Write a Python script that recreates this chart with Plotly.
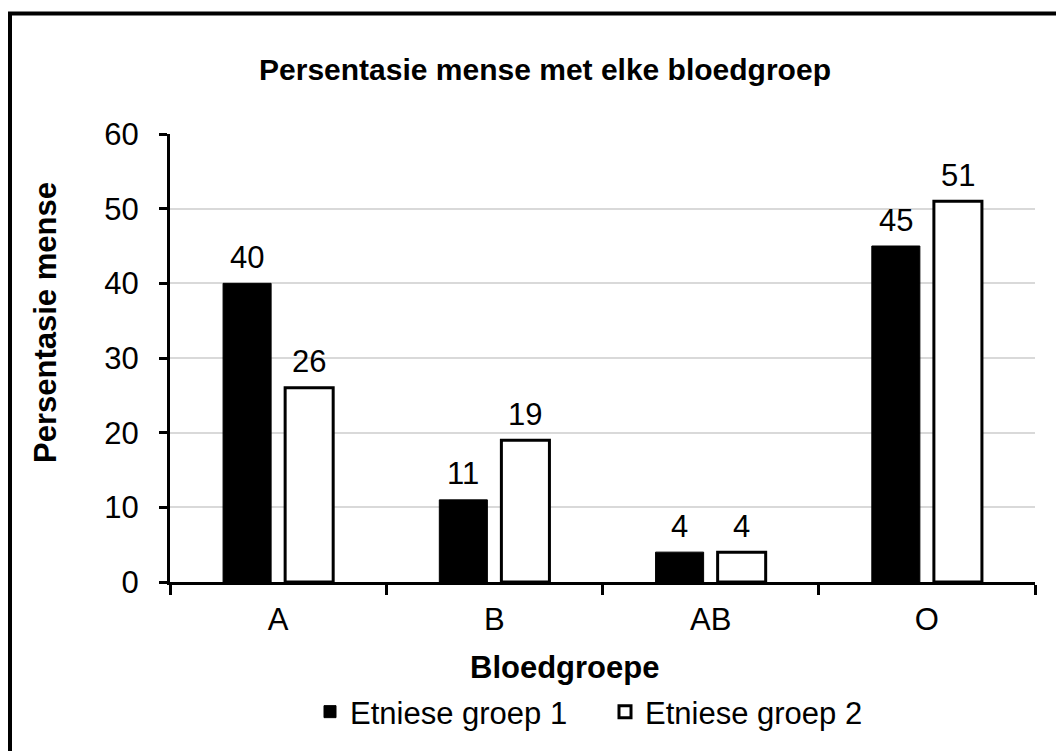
import plotly.graph_objects as go

categories = ["A", "B", "AB", "O"]
group1 = [40, 11, 4, 45]
group2 = [26, 19, 4, 51]
series_names = ["Etniese groep 1", "Etniese groep 2"]
title_text = "Persentasie mense met elke bloedgroep"
y_title = "Persentasie mense"
x_title = "Bloedgroepe"

FONT = "Arial, Liberation Sans, sans-serif"
FS = 31
W, H = 1064, 751
OFF = 8  # page body margin
# target positions in screenshot pixels
PL, PR, PT, PB = 170, 1035, 134, 582
L = PL - OFF
T = PT - OFF
R = W - (PR - OFF)
B = H - (PB - OFF)
pw = W - L - R
ph = H - T - B

def px_x(x):
    return (x - OFF - L) / pw

def px_y(y):
    return (H - B - (y - OFF)) / ph

fig = go.Figure()
fig.add_trace(go.Bar(
    x=categories, y=group1, name=series_names[0],
    marker=dict(color="black", line=dict(color="black", width=1)),
))
fig.add_trace(go.Bar(
    x=categories, y=group2, name=series_names[1],
    marker=dict(color="white", line=dict(color="black", width=3)),
))

# value labels above bars
for vals, shift in ((group1, -31), (group2, 31)):
    for c, v in zip(categories, vals):
        fig.add_annotation(x=c, y=v, xref="x", yref="y", text=str(v), showarrow=False,
                           xshift=shift, yshift=26, xanchor="center", yanchor="middle",
                           font=dict(family=FONT, size=FS, color="black"))

fig.update_layout(
    width=W, height=H,
    margin=dict(l=L, r=R, t=T, b=B),
    paper_bgcolor="white", plot_bgcolor="white",
    font=dict(family=FONT, size=FS, color="black"),
    barmode="group", bargap=0.426, bargroupgap=0.226,
    title=dict(text="<b>" + title_text + "</b>", x=(545 - OFF) / W, xref="container", xanchor="center",
               y=1 - (69 - OFF) / H, yref="container", yanchor="middle",
               font=dict(family=FONT, size=30, color="black")),
    showlegend=True,
    legend=dict(orientation="h", x=px_x(605), xanchor="center", y=px_y(712), yanchor="middle",
                font=dict(family=FONT, size=FS, color="black"), bgcolor="rgba(0,0,0,0)",
                entrywidth=250, entrywidthmode="pixels"),
)

fig.update_yaxes(
    range=[0, 60], dtick=10, showgrid=True, gridcolor="#d9d9d9", gridwidth=1.5,
    showline=True, linecolor="black", linewidth=3, ticks="outside", ticklen=8,
    tickwidth=3, tickcolor="black", zeroline=False, ticklabelstandoff=14,
    tickfont=dict(family=FONT, size=FS, color="black"),
)
fig.update_xaxes(
    showline=True, linecolor="black", linewidth=3, ticks="outside", tickson="boundaries",
    ticklen=10, tickwidth=3, tickcolor="black", showgrid=False, ticklabelstandoff=8,
    tickfont=dict(family=FONT, size=FS, color="black"),
)

fig.add_annotation(text="<b>" + y_title + "</b>", textangle=-90, xref="paper", yref="paper",
                   x=px_x(45), y=px_y(322), xanchor="center", yanchor="middle", showarrow=False,
                   font=dict(family=FONT, size=FS, color="black"))
fig.add_annotation(text="<b>" + x_title + "</b>", xref="paper", yref="paper",
                   x=px_x(564), y=px_y(667), xanchor="center", yanchor="middle", showarrow=False,
                   font=dict(family=FONT, size=FS, color="black"))

fig.add_shape(type="rect", xref="paper", yref="paper",
              x0=px_x(10), x1=px_x(1090), y0=px_y(780), y1=px_y(13.5),
              line=dict(color="black", width=4), fillcolor="rgba(0,0,0,0)", layer="above")

fig.write_html("out.html")
